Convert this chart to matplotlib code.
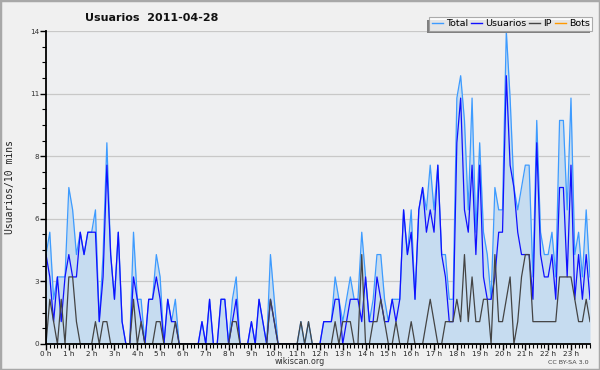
import matplotlib
matplotlib.use('Agg')
import matplotlib.pyplot as plt
import numpy as np
from matplotlib import font_manager
from matplotlib.lines import Line2D
from matplotlib.patches import Rectangle

# ---- data (10-minute intervals, 2011-04-28) ----
usuarios = [4, 3, 1, 3, 1, 3, 4, 3, 3, 5, 4, 5, 5, 5, 1, 3, 8, 4, 2, 5,
            1, 0, 0, 3, 2, 1, 0, 2, 2, 3, 2, 0, 2, 1, 1, 0, 0, 0, 0, 0,
            0, 1, 0, 2, 0, 0, 2, 2, 0, 1, 2, 0, 0, 0, 1, 0, 2, 1, 0, 2,
            1, 0, 0, 0, 0, 0, 0, 0, 0, 0, 0, 0, 0, 1, 1, 1, 2, 2, 0, 1,
            2, 2, 2, 1, 3, 1, 1, 3, 2, 1, 1, 2, 1, 2, 6, 4, 5, 2, 6, 7,
            5, 6, 5, 8, 4, 3, 1, 1, 9, 11, 6, 5, 8, 4, 8, 3, 2, 2, 3, 5,
            5, 12, 8, 7, 5, 4, 4, 4, 2, 9, 4, 3, 3, 4, 2, 7, 7, 3, 8, 2,
            4, 2, 4, 2]
ip = [0, 2, 1, 0, 2, 0, 3, 3, 1, 0, 0, 0, 0, 1, 0, 1, 1, 0, 0, 0,
      0, 0, 0, 2, 0, 1, 0, 0, 0, 1, 1, 0, 0, 0, 1, 0, 0, 0, 0, 0,
      0, 0, 0, 0, 0, 0, 0, 0, 0, 1, 1, 0, 0, 0, 0, 0, 0, 0, 0, 2,
      1, 0, 0, 0, 0, 0, 0, 1, 0, 1, 0, 0, 0, 0, 0, 0, 1, 0, 1, 1,
      1, 0, 0, 4, 0, 0, 1, 1, 2, 1, 0, 0, 1, 0, 0, 0, 1, 0, 0, 0,
      1, 2, 1, 0, 0, 1, 1, 1, 2, 1, 4, 1, 3, 1, 1, 2, 2, 0, 4, 1,
      1, 2, 3, 0, 1, 3, 4, 4, 1, 1, 1, 1, 1, 1, 1, 3, 3, 3, 3, 2,
      1, 1, 2, 1]
total = [4, 5, 2, 3, 3, 3, 7, 6, 4, 5, 4, 5, 5, 6, 1, 4, 9, 4, 2, 5,
         1, 0, 0, 5, 2, 2, 0, 2, 2, 4, 3, 0, 2, 1, 2, 0, 0, 0, 0, 0,
         0, 1, 0, 2, 0, 0, 2, 2, 0, 2, 3, 0, 0, 0, 1, 0, 2, 1, 0, 4,
         2, 0, 0, 0, 0, 0, 0, 1, 0, 1, 0, 0, 0, 1, 1, 1, 3, 2, 1, 2,
         3, 2, 2, 5, 3, 1, 2, 4, 4, 2, 1, 2, 2, 2, 6, 4, 6, 2, 6, 7,
         6, 8, 6, 8, 4, 4, 2, 2, 11, 12, 10, 6, 11, 5, 9, 5, 4, 2, 7, 6,
         6, 14, 11, 7, 6, 7, 8, 8, 3, 10, 5, 4, 4, 5, 3, 10, 10, 6, 11, 4,
         5, 3, 6, 3]
bots = [0] * 144

hour_labels = [f"{h} h" for h in range(24)]
ytick_values = [0, 2.8, 5.6, 8.4, 11.2, 14]
ytick_labels = ["0", "3", "6", "8", "11", "14"]

# ---- fonts ----
available = {f.name for f in font_manager.fontManager.ttflist}
narrow = 'Liberation Sans Narrow' if 'Liberation Sans Narrow' in available else None
if narrow:
    tick_font = dict(family=narrow, size=6.8)
else:
    tick_font = dict(family='DejaVu Sans', size=5.2)

W, H = 600, 370
fig = plt.figure(figsize=(W / 100, H / 100), dpi=100, facecolor='#f0f0f0')
fig.add_artist(Rectangle((0, 0), 1, 1, transform=fig.transFigure, fill=False,
                         edgecolor='#a8a8a8', lw=2.5, zorder=0))

ax = fig.add_axes([46 / W, 1 - 344 / H, 544 / W, 313 / H])
ax.set_facecolor('#eeeff1')

x = np.arange(len(total))
ax.fill_between(x, total, color='#c6dcf0', lw=0, zorder=1)
ax.plot(x, bots, color='#ff9900', lw=0.9, zorder=2)
ax.plot(x, total, color='#3d9bff', lw=0.9, zorder=3)
ax.plot(x, usuarios, color='#1010ff', lw=0.9, zorder=4)
ax.plot(x, ip, color='#444444', lw=0.9, zorder=5)

ax.set_xlim(0, len(total) - 1)
ax.set_ylim(0, 14)

for s in ['top', 'right']:
    ax.spines[s].set_visible(False)
for s in ['left', 'bottom']:
    ax.spines[s].set_color('black')
    ax.spines[s].set_linewidth(1.3)
    ax.spines[s].set_zorder(6)

ax.set_yticks(ytick_values)
ax.set_yticklabels(ytick_labels, **tick_font, color='#333333')
ax.set_yticks(np.arange(0, 14.01, 0.7), minor=True)
ax.set_xticks([h * 6 for h in range(24)])
ax.set_xticklabels(hour_labels, **tick_font, color='#222222')
ax.set_xticks(x, minor=True)
ax.tick_params(axis='both', which='major', direction='out', length=4, width=1, pad=1, color='black')
ax.tick_params(axis='both', which='minor', direction='out', length=3, width=0.8, color='black')

ax.grid(axis='y', which='major', color='#c8c8c8', lw=0.9)
ax.set_axisbelow(True)

fig.text(10 / W, 1 - 187 / H, 'Usuarios/10 mins', rotation=90, family='DejaVu Sans Mono',
         fontsize=7, va='center', ha='center', color='#222222')
fig.text(85 / W, 1 - 18 / H, 'Usuarios  2011-04-28', fontsize=8, fontweight='bold',
         ha='left', va='center', color='#111111')
fig.text(300 / W, 1 - 362 / H, 'wikiscan.org', fontsize=5.8, ha='center', va='center', color='#333333')
fig.text(589 / W, 1 - 362 / H, 'CC BY-SA 3.0', fontsize=4.6, ha='right', va='center', color='#444444')

handles = [Line2D([], [], color='#3d9bff', lw=1),
           Line2D([], [], color='#1010ff', lw=1),
           Line2D([], [], color='#444444', lw=1),
           Line2D([], [], color='#ff9900', lw=1)]
leg = fig.legend(handles, ['Total', 'Usuarios', 'IP', 'Bots'], loc='upper right',
                 bbox_to_anchor=(592 / W, 1 - 17 / H), ncol=4, fontsize=6.8,
                 frameon=True, fancybox=False, handlelength=1.2, handletextpad=0.3,
                 columnspacing=0.3, borderpad=0.25, borderaxespad=0)
leg.get_frame().set_edgecolor('#999999')
leg.get_frame().set_facecolor('white')
leg.get_frame().set_linewidth(0.8)
leg.set_zorder(10)

fig.canvas.draw()
bb = leg.get_window_extent().transformed(fig.transFigure.inverted())
fig.add_artist(Rectangle((bb.x0 - 2.5 / W, bb.y0 - 2.5 / H), bb.width, bb.height,
                         transform=fig.transFigure, facecolor='#808080', edgecolor='none', zorder=9))

fig.savefig('out.png', dpi=100, facecolor=fig.get_facecolor())
